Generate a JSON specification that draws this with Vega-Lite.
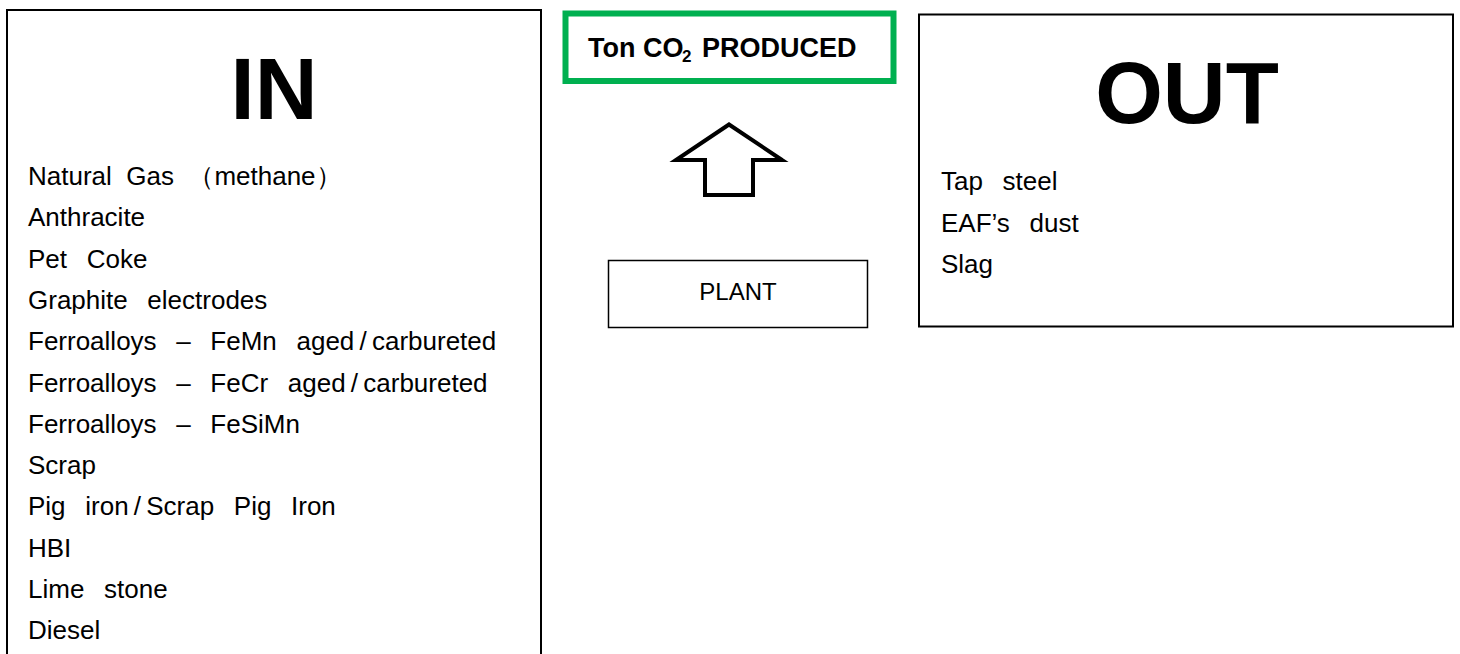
{
  "$schema": "https://vega.github.io/schema/vega-lite/v6.json",
  "width": 1460,
  "height": 654,
  "autosize": {"type": "fit", "contains": "padding"},
  "padding": 0,
  "background": "white",
  "config": {"view": {"stroke": null}, "font": "Liberation Sans"},
  "datasets": {
    "boxes": [
      {"name": "IN", "x": 7, "x2": 541, "y": 10, "y2": 680},
      {"name": "OUT", "x": 919, "x2": 1453, "y": 14.5, "y2": 326.5}
    ],
    "plant": [{"name": "PLANT", "x": 608.5, "x2": 867.5, "y": 260.5, "y2": 327.5}],
    "co2box": [{"name": "CO2", "x": 565.5, "x2": 893.5, "y": 13.5, "y2": 81}],
    "arrow": [
      {"o": 1, "x": 729, "y": 124.5},
      {"o": 2, "x": 782, "y": 160},
      {"o": 3, "x": 753, "y": 160},
      {"o": 4, "x": 753, "y": 195},
      {"o": 5, "x": 705, "y": 195},
      {"o": 6, "x": 705, "y": 160},
      {"o": 7, "x": 676, "y": 160},
      {"o": 8, "x": 729, "y": 124.5},
      {"o": 9, "x": 782, "y": 160}
    ],
    "titles": [
      {"label": "IN", "x": 274, "y": 119},
      {"label": "OUT", "x": 1187, "y": 123}
    ],
    "items": [
      {"label": "Natural\u00a0\u00a0Gas\u00a0\u00a0（methane）", "x": 28, "y": 185},
      {"label": "Anthracite", "x": 28, "y": 226.3},
      {"label": "Pet\u00a0\u00a0\u2009Coke", "x": 28, "y": 267.6},
      {"label": "Graphite\u00a0\u00a0\u2009electrodes", "x": 28, "y": 308.9},
      {"label": "Ferroalloys\u00a0\u00a0\u2009–\u00a0\u00a0\u2009FeMn\u00a0\u00a0\u2009aged\u2009/\u2009carbureted", "x": 28, "y": 350.2},
      {"label": "Ferroalloys\u00a0\u00a0\u2009–\u00a0\u00a0\u2009FeCr\u00a0\u00a0\u2009aged\u2009/\u2009carbureted", "x": 28, "y": 391.5},
      {"label": "Ferroalloys\u00a0\u00a0\u2009–\u00a0\u00a0\u2009FeSiMn", "x": 28, "y": 432.8},
      {"label": "Scrap", "x": 28, "y": 474.1},
      {"label": "Pig\u00a0\u00a0\u2009iron\u2009/\u2009Scrap\u00a0\u00a0\u2009Pig\u00a0\u00a0\u2009Iron", "x": 28, "y": 515.4},
      {"label": "HBI", "x": 28, "y": 556.7},
      {"label": "Lime\u00a0\u00a0\u2009stone", "x": 28, "y": 598},
      {"label": "Diesel", "x": 28, "y": 639.3},
      {"label": "Tap\u00a0\u00a0\u2009steel", "x": 941, "y": 190},
      {"label": "EAF’s\u00a0\u00a0\u2009dust", "x": 941, "y": 231.5},
      {"label": "Slag", "x": 941, "y": 273}
    ],
    "plantLabel": [{"label": "PLANT", "x": 738, "y": 300}],
    "co2": [
      {"label": "Ton CO", "x": 588, "y": 57},
      {"label": "PRODUCED", "x": 702, "y": 57}
    ],
    "co2sub": [{"label": "2", "x": 682, "y": 62}]
  },
  "encoding": {
    "x": {"field": "x", "type": "quantitative", "scale": {"domain": [0, 1460], "nice": false, "zero": false}, "axis": null},
    "y": {"field": "y", "type": "quantitative", "scale": {"domain": [0, 654], "nice": false, "zero": false, "reverse": true}, "axis": null}
  },
  "layer": [
    {
      "data": {"name": "boxes"},
      "mark": {"type": "rect", "fill": null, "fillOpacity": 0, "stroke": "black", "strokeWidth": 2, "clip": true},
      "encoding": {"x2": {"field": "x2"}, "y2": {"field": "y2"}}
    },
    {
      "data": {"name": "plant"},
      "mark": {"type": "rect", "fill": null, "fillOpacity": 0, "stroke": "black", "strokeWidth": 1.5},
      "encoding": {"x2": {"field": "x2"}, "y2": {"field": "y2"}}
    },
    {
      "data": {"name": "co2box"},
      "mark": {"type": "rect", "fill": null, "fillOpacity": 0, "stroke": "#00B050", "strokeWidth": 6},
      "encoding": {"x2": {"field": "x2"}, "y2": {"field": "y2"}}
    },
    {
      "data": {"name": "arrow"},
      "mark": {"type": "line", "stroke": "black", "strokeWidth": 4, "strokeJoin": "miter", "strokeMiterLimit": 10},
      "encoding": {"order": {"field": "o", "type": "quantitative"}}
    },
    {
      "data": {"name": "titles"},
      "mark": {"type": "text", "font": "Liberation Sans", "fontWeight": "bold", "fontSize": 87, "align": "center", "baseline": "alphabetic", "color": "black"},
      "encoding": {"text": {"field": "label"}}
    },
    {
      "data": {"name": "items"},
      "mark": {"type": "text", "font": "Liberation Sans", "fontSize": 26, "align": "left", "baseline": "alphabetic", "color": "black"},
      "encoding": {"text": {"field": "label"}}
    },
    {
      "data": {"name": "plantLabel"},
      "mark": {"type": "text", "font": "Liberation Sans", "fontSize": 24, "align": "center", "baseline": "alphabetic", "color": "black"},
      "encoding": {"text": {"field": "label"}}
    },
    {
      "data": {"name": "co2"},
      "mark": {"type": "text", "font": "Liberation Sans", "fontWeight": "bold", "fontSize": 27, "align": "left", "baseline": "alphabetic", "color": "black"},
      "encoding": {"text": {"field": "label"}}
    },
    {
      "data": {"name": "co2sub"},
      "mark": {"type": "text", "font": "Liberation Sans", "fontWeight": "bold", "fontSize": 17, "align": "left", "baseline": "alphabetic", "color": "black"},
      "encoding": {"text": {"field": "label"}}
    }
  ]
}
